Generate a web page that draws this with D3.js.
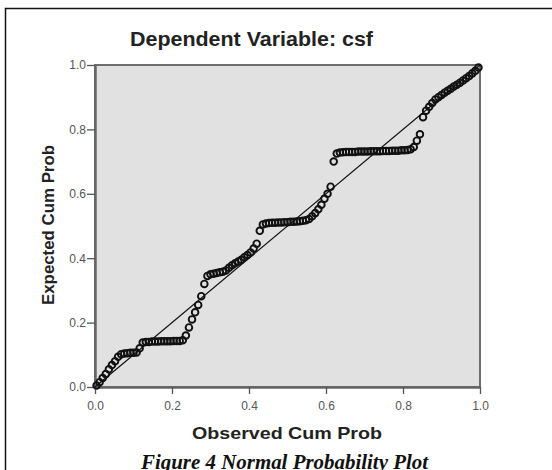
<!DOCTYPE html>
<html>
<head>
<meta charset="utf-8">
<script src="https://cdn.jsdelivr.net/npm/d3@7"></script>
<style>
body { margin: 0; background: #fff; }
</style>
</head>
<body>
<div id="chart"></div>
<script>
// normal P-P plot of regression standardized residual
var title = "Dependent Variable: csf";
var xLabel = "Observed Cum Prob";
var yLabel = "Expected Cum Prob";
var caption = "Figure 4 Normal Probability Plot";
var ticks = [0, 0.2, 0.4, 0.6, 0.8, 1.0];

var observed = [0.004,0.012,0.020,0.028,0.036,0.044,0.052,0.060,0.068,0.076,
  0.084,0.092,0.100,0.108,0.116,0.124,0.132,0.140,0.148,0.156,
  0.164,0.172,0.180,0.188,0.196,0.204,0.212,0.220,0.228,0.236,
  0.244,0.252,0.260,0.268,0.276,0.284,0.292,0.300,0.308,0.316,
  0.324,0.332,0.340,0.348,0.356,0.364,0.372,0.380,0.388,0.396,
  0.404,0.412,0.420,0.428,0.436,0.444,0.452,0.460,0.468,0.476,
  0.484,0.492,0.500,0.508,0.516,0.524,0.532,0.540,0.548,0.556,
  0.564,0.572,0.580,0.588,0.596,0.604,0.612,0.620,0.628,0.636,
  0.644,0.652,0.660,0.668,0.676,0.684,0.692,0.700,0.708,0.716,
  0.724,0.732,0.740,0.748,0.756,0.764,0.772,0.780,0.788,0.796,
  0.804,0.812,0.820,0.828,0.836,0.844,0.852,0.860,0.868,0.876,
  0.884,0.892,0.900,0.908,0.916,0.924,0.932,0.940,0.948,0.956,
  0.964,0.972,0.980,0.988,0.996];

var expected = [0.005,0.015,0.028,0.040,0.055,0.068,0.080,0.094,0.102,0.104,
  0.105,0.106,0.106,0.107,0.120,0.138,0.140,0.140,0.141,0.141,
  0.141,0.142,0.142,0.142,0.142,0.143,0.143,0.143,0.145,0.160,
  0.185,0.210,0.232,0.255,0.282,0.320,0.345,0.350,0.352,0.354,
  0.356,0.358,0.362,0.370,0.378,0.384,0.390,0.395,0.403,0.410,
  0.418,0.430,0.445,0.485,0.505,0.508,0.509,0.510,0.510,0.511,
  0.511,0.512,0.512,0.513,0.513,0.514,0.515,0.516,0.518,0.522,
  0.530,0.540,0.552,0.566,0.585,0.600,0.622,0.700,0.725,0.728,
  0.729,0.730,0.730,0.730,0.730,0.731,0.731,0.731,0.731,0.732,
  0.732,0.732,0.732,0.733,0.733,0.733,0.734,0.734,0.734,0.735,
  0.735,0.736,0.738,0.745,0.765,0.785,0.838,0.858,0.870,0.882,
  0.893,0.900,0.907,0.914,0.920,0.926,0.933,0.939,0.945,0.952,
  0.959,0.966,0.974,0.982,0.992];

var width = 552, height = 470;
var plotLeft = 95, plotRight = 480, plotTop = 65, plotBottom = 387;

var svg = d3.select("#chart").append("svg")
  .attr("width", width)
  .attr("height", height);

// outer frame of the figure
svg.append("rect")
  .attr("x", 5.5).attr("y", 8.5)
  .attr("width", 580).attr("height", 500)
  .attr("fill", "none")
  .attr("stroke", "#111")
  .attr("stroke-width", 1.5);

var x = d3.scaleLinear().domain([0, 1]).range([plotLeft, plotRight]);
var y = d3.scaleLinear().domain([0, 1]).range([plotBottom, plotTop]);

svg.append("rect")
  .attr("x", plotLeft).attr("y", plotTop)
  .attr("width", plotRight - plotLeft).attr("height", plotBottom - plotTop)
  .attr("fill", "#e1e1e1")
  .attr("stroke", "#6e6e6e")
  .attr("stroke-width", 2);

var xAxis = svg.append("g")
  .attr("transform", "translate(0," + plotBottom + ")")
  .call(d3.axisBottom(x).tickValues(ticks).tickFormat(d3.format(".1f")).tickSize(7).tickSizeOuter(0).tickPadding(7));
var yAxis = svg.append("g")
  .attr("transform", "translate(" + plotLeft + ",0)")
  .call(d3.axisLeft(y).tickValues(ticks).tickFormat(d3.format(".1f")).tickSize(8).tickSizeOuter(0).tickPadding(1));

[xAxis, yAxis].forEach(function(g) {
  g.select(".domain").attr("stroke", "#666").attr("stroke-width", 2.5);
  g.selectAll(".tick line").attr("stroke", "#555").attr("stroke-width", 1.3);
  g.selectAll(".tick text")
    .attr("fill", "#555")
    .style("font-family", "Arial, 'Liberation Sans', sans-serif")
    .style("font-size", "12px");
});

// reference diagonal
svg.append("line")
  .attr("x1", x(0)).attr("y1", y(0))
  .attr("x2", x(1)).attr("y2", y(1))
  .attr("stroke", "#111")
  .attr("stroke-width", 1.2);

var pts = observed.map(function(d, i) { return [d, expected[i]]; });
svg.append("g").selectAll("circle")
  .data(pts)
  .enter().append("circle")
  .attr("cx", function(d) { return x(d[0]); })
  .attr("cy", function(d) { return y(d[1]); })
  .attr("r", 3.3)
  .attr("fill", "none")
  .attr("stroke", "#111")
  .attr("stroke-width", 1.9);

svg.append("text")
  .attr("x", 130).attr("y", 46)
  .attr("textLength", 243).attr("lengthAdjust", "spacingAndGlyphs")
  .style("font-family", "Arial, 'Liberation Sans', sans-serif")
  .style("font-size", "20px").style("font-weight", "bold")
  .attr("fill", "#222")
  .text(title);

svg.append("text")
  .attr("x", 192).attr("y", 439)
  .attr("textLength", 190).attr("lengthAdjust", "spacingAndGlyphs")
  .style("font-family", "Arial, 'Liberation Sans', sans-serif")
  .style("font-size", "17px").style("font-weight", "bold")
  .attr("fill", "#222")
  .text(xLabel);

svg.append("text")
  .attr("transform", "translate(54,305) rotate(-90)")
  .attr("textLength", 160).attr("lengthAdjust", "spacingAndGlyphs")
  .style("font-family", "Arial, 'Liberation Sans', sans-serif")
  .style("font-size", "17px").style("font-weight", "bold")
  .attr("fill", "#222")
  .text(yLabel);

svg.append("text")
  .attr("x", 141).attr("y", 469)
  .attr("textLength", 287).attr("lengthAdjust", "spacingAndGlyphs")
  .style("font-family", "'Liberation Serif', 'DejaVu Serif', serif")
  .style("font-size", "20px").style("font-weight", "bold").style("font-style", "italic")
  .attr("fill", "#111")
  .text(caption);
</script>
</body>
</html>
